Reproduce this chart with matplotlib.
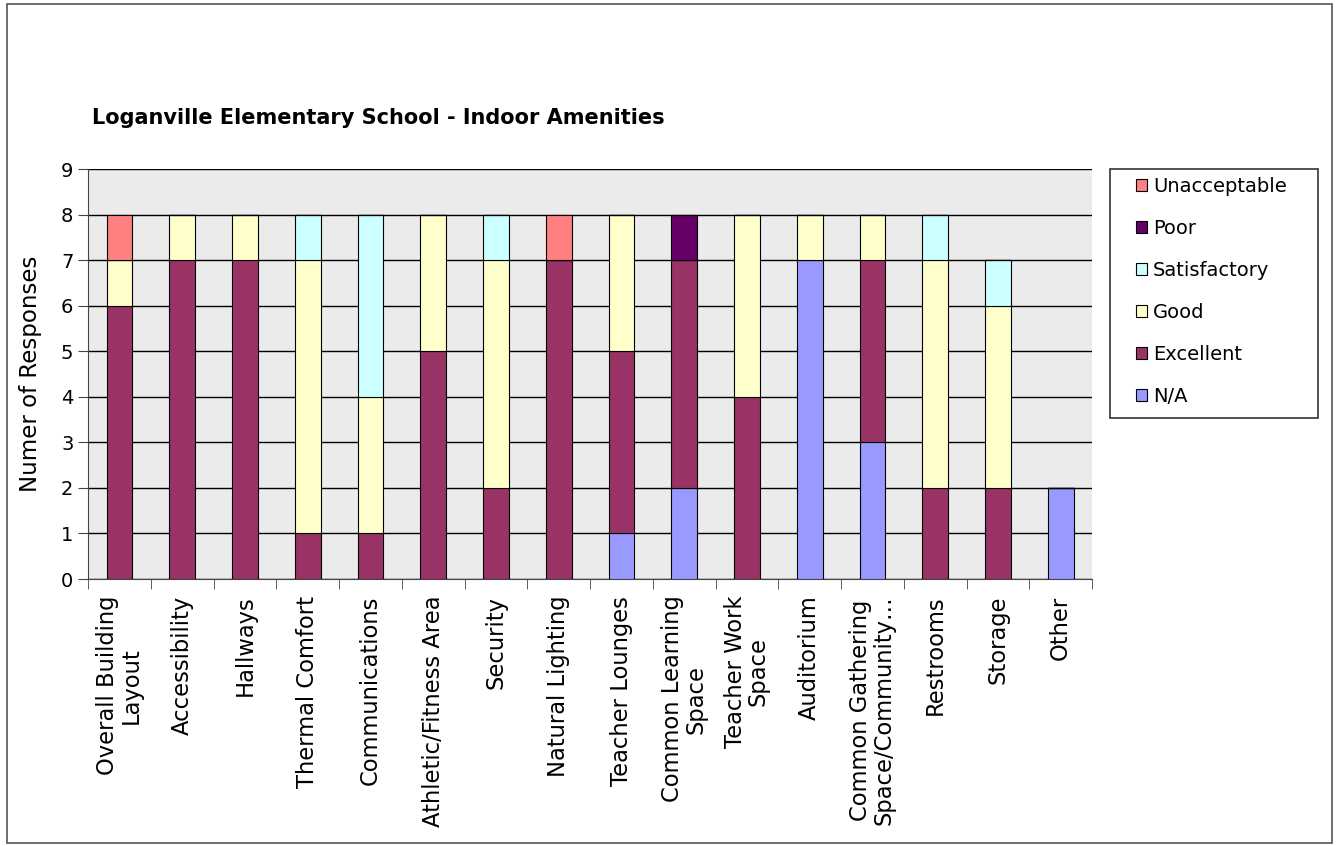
import matplotlib.pyplot as plt
import numpy as np
from matplotlib.patches import Rectangle

plt.rcParams['font.family'] = ['DejaVu Sans']

categories = [
    "Overall Building\nLayout", "Accessibility", "Hallways", "Thermal Comfort",
    "Communications", "Athletic/Fitness Area", "Security", "Natural Lighting",
    "Teacher Lounges", "Common Learning\nSpace", "Teacher Work\nSpace",
    "Auditorium", "Common Gathering\nSpace/Community\u2026", "Restrooms",
    "Storage", "Other",
]

# stacked from the bottom up
na = [0, 0, 0, 0, 0, 0, 0, 0, 1, 2, 0, 7, 3, 0, 0, 2]
excellent = [6, 7, 7, 1, 1, 5, 2, 7, 4, 5, 4, 0, 4, 2, 2, 0]
good = [1, 1, 1, 6, 3, 3, 5, 0, 3, 0, 4, 1, 1, 5, 4, 0]
satisfactory = [0, 0, 0, 1, 4, 0, 1, 0, 0, 0, 0, 0, 0, 1, 1, 0]
poor = [0, 0, 0, 0, 0, 0, 0, 0, 0, 1, 0, 0, 0, 0, 0, 0]
unacceptable = [1, 0, 0, 0, 0, 0, 0, 1, 0, 0, 0, 0, 0, 0, 0, 0]

series = [
    ("N/A", na, "#9999FF"),
    ("Excellent", excellent, "#993366"),
    ("Good", good, "#FFFFCC"),
    ("Satisfactory", satisfactory, "#CCFFFF"),
    ("Poor", poor, "#660066"),
    ("Unacceptable", unacceptable, "#FF8080"),
]

fig = plt.figure(figsize=(13.36, 8.46), dpi=100)
ax = fig.add_axes([0.0659, 0.3156, 0.7515, 0.4846])
ax.set_facecolor("#EBEBEB")

# frame around the whole chart
fig.patches.append(Rectangle((0.005, 0.003), 0.992, 0.992, transform=fig.transFigure,
                             fill=False, edgecolor="#555555", linewidth=1.2))

x = np.arange(len(categories))
bottom = np.zeros(len(categories))
bars = {}
for name, vals, color in series:
    vals = np.array(vals)
    bars[name] = ax.bar(x, vals, 0.41, bottom=bottom, color=color,
                        edgecolor="black", linewidth=0.8, zorder=3)
    bottom += vals

ax.set_xlim(-0.5, len(categories) - 0.5)
ax.set_ylim(0, 9)
ax.set_yticks(range(10))
ax.yaxis.grid(True, color="black", linewidth=1, zorder=1)
ax.set_axisbelow(True)
ax.tick_params(axis="y", labelsize=14, length=7, direction="out", color="#444444")

ax.set_xticks(x)
ax.set_xticklabels(categories, rotation=90, fontsize=16.3, ha="center", va="top",
                   multialignment="center", linespacing=1.0)
ax.set_xticks(np.arange(-0.5, len(categories)), minor=True)
ax.tick_params(axis="x", which="major", length=0, pad=12)
ax.tick_params(axis="x", which="minor", length=7, direction="out", color="#444444")

for s in ["top", "right"]:
    ax.spines[s].set_visible(False)
for s in ["left", "bottom"]:
    ax.spines[s].set_color("#444444")

ax.set_ylabel("Numer of Responses", fontsize=16.5, labelpad=14)

fig.text(0.069, 0.861, "Loganville Elementary School - Indoor Amenities",
         fontsize=15, fontweight="bold", ha="left", va="center")

# legend box drawn separately so the padding can match
fig.patches.append(Rectangle((0.8308, 0.5059), 0.1557, 0.2943, transform=fig.transFigure,
                             fill=False, edgecolor="#333333", linewidth=1.2))
order = ["Unacceptable", "Poor", "Satisfactory", "Good", "Excellent", "N/A"]
leg = ax.legend([bars[n] for n in order], order, loc="upper left",
                bbox_to_anchor=(0.850, 0.7908), bbox_transform=fig.transFigure,
                fontsize=14, frameon=False,
                handlelength=0.6, handleheight=0.55, handletextpad=0.3,
                labelspacing=1.18, borderpad=0, borderaxespad=0)

fig.savefig("out.png", dpi=100)
